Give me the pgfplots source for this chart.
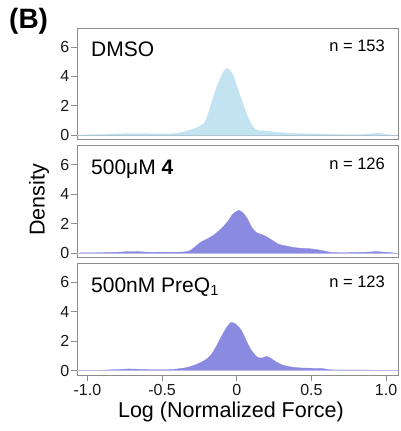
\documentclass[border=0pt]{standalone}
\usepackage{fontspec}
\setmainfont{Liberation Sans}
\usepackage{pgfplots}
\pgfplotsset{compat=1.18}
\definecolor{framec}{HTML}{8C8C8C}
\definecolor{lblue}{HTML}{C4E3F1}
\definecolor{purp}{HTML}{8A8AE0}
\begin{document}
\begin{tikzpicture}[x=1pt,y=1pt]
\useasboundingbox (0,0) rectangle (400,431);
\pgfplotsset{
 panel/.style={scale only axis, width=321pt, height=111.7pt,
  xmin=-1.07, xmax=1.08, ymin=-0.3, ymax=7.3,
  ytick={0,2,4,6}, yticklabels={0,2,4,6}, ytick pos=left,
  tick align=outside, major tick length=6pt,
  axis line style={framec, line width=0.8pt},
  every tick/.style={framec, line width=0.8pt},
  tick label style={font=\fontsize{16}{18}\selectfont, text=black!90},
  yticklabel style={inner sep=1.5pt},
  /pgf/number format/assume math mode=true,
  anchor=north west},
}
% Panel 1: DMSO
\begin{axis}[panel, at={(77pt,403pt)}, xtick=\empty]
\addplot[fill=lblue, draw=lblue, line width=0.3pt, smooth, tension=0.4] coordinates {
(-1.05,0.02) (-0.95,0.04) (-0.85,0.08) (-0.75,0.11) (-0.65,0.12) (-0.55,0.1) (-0.45,0.1) (-0.4,0.14) (-0.35,0.25) (-0.3,0.4) (-0.26,0.55) (-0.22,0.8) (-0.19,1.5) (-0.16,2.5) (-0.13,3.4) (-0.1,4.1) (-0.08,4.45) (-0.06,4.55) (-0.04,4.35) (-0.02,4.0) (0.0,3.35) (0.03,2.5) (0.06,1.6) (0.09,0.9) (0.12,0.45) (0.15,0.3) (0.18,0.3) (0.21,0.28) (0.25,0.22) (0.3,0.18) (0.35,0.14) (0.45,0.1) (0.55,0.09) (0.65,0.06) (0.75,0.05) (0.85,0.06) (0.92,0.12) (0.95,0.15) (0.98,0.1) (1.02,0.03) (1.06,0.01)
} \closedcycle;
\addplot[lblue!70!gray, line width=0.6pt] coordinates {(-1.07,0) (1.08,0)};
\end{axis}
% Panel 2: 500uM 4
\begin{axis}[panel, at={(77pt,285.3pt)}, xtick=\empty]
\addplot[fill=purp, draw=purp, line width=0.3pt, smooth, tension=0.4] coordinates {
(-1.05,0.01) (-0.9,0.02) (-0.8,0.05) (-0.72,0.1) (-0.66,0.09) (-0.58,0.05) (-0.5,0.04) (-0.42,0.05) (-0.37,0.06) (-0.33,0.1) (-0.3,0.25) (-0.27,0.5) (-0.24,0.75) (-0.2,0.95) (-0.15,1.25) (-0.1,1.7) (-0.06,2.15) (-0.03,2.6) (0.0,2.85) (0.015,2.9) (0.04,2.75) (0.07,2.35) (0.1,1.75) (0.13,1.4) (0.17,1.25) (0.2,1.1) (0.24,0.85) (0.28,0.6) (0.33,0.48) (0.38,0.38) (0.43,0.32) (0.48,0.3) (0.53,0.24) (0.58,0.15) (0.63,0.04) (0.7,0.02) (0.8,0.03) (0.9,0.07) (0.94,0.1) (0.98,0.06) (1.05,0.01)
} \closedcycle;
\addplot[purp!60!white, line width=0.6pt] coordinates {(-1.07,0) (1.08,0)};
\end{axis}
% Panel 3: 500nM PreQ1
\begin{axis}[panel, at={(77pt,167.7pt)},
  xtick={-1,-0.5,0,0.5,1}, xticklabels={-1.0,-0.5,0,0.5,1.0}, xtick pos=bottom]
\addplot[fill=purp, draw=purp, line width=0.3pt, smooth, tension=0.4] coordinates {
(-1.0,0.0) (-0.9,0.03) (-0.8,0.07) (-0.73,0.11) (-0.65,0.09) (-0.56,0.07) (-0.48,0.07) (-0.42,0.09) (-0.37,0.15) (-0.33,0.22) (-0.28,0.38) (-0.24,0.56) (-0.2,0.8) (-0.17,1.1) (-0.14,1.6) (-0.107,2.24) (-0.07,2.9) (-0.04,3.27) (-0.02,3.25) (0.0,3.1) (0.027,2.8) (0.05,2.35) (0.07,1.9) (0.1,1.35) (0.14,0.9) (0.17,0.86) (0.2,0.97) (0.23,0.82) (0.26,0.62) (0.29,0.45) (0.32,0.34) (0.37,0.24) (0.43,0.18) (0.5,0.16) (0.56,0.15) (0.6,0.1) (0.64,0.05) (0.75,0.04) (0.85,0.04) (0.95,0.02) (1.04,0.0)
} \closedcycle;
\addplot[purp!60!white, line width=0.6pt] coordinates {(-1.07,0) (1.08,0)};
\end{axis}
% texts
\node[anchor=base west, inner sep=0pt] at (9,402) {\fontsize{28}{30}\selectfont\bfseries (B)};
\node[anchor=base west, inner sep=0pt] at (91,374) {\fontsize{21}{24}\selectfont DMSO};
\node[anchor=base east, inner sep=0pt] at (385,379) {\fontsize{16.5}{19}\selectfont n = 153};
\node[anchor=base west, inner sep=0pt] at (91,256.3) {\fontsize{21}{24}\selectfont 500μM \textbf{4}};
\node[anchor=base east, inner sep=0pt] at (385,261.3) {\fontsize{16.5}{19}\selectfont n = 126};
\node[anchor=base west, inner sep=0pt] at (91,138.7) {\fontsize{21}{24}\selectfont 500nM PreQ\textsubscript{1}};
\node[anchor=base east, inner sep=0pt] at (385,143.7) {\fontsize{16.5}{19}\selectfont n = 123};
\node[rotate=90, inner sep=0pt] at (39,231) {\fontsize{21.5}{24}\selectfont Density};
\node[inner sep=0pt] at (231,19) {\fontsize{21.5}{24}\selectfont Log (Normalized Force)};
\end{tikzpicture}
\end{document}
